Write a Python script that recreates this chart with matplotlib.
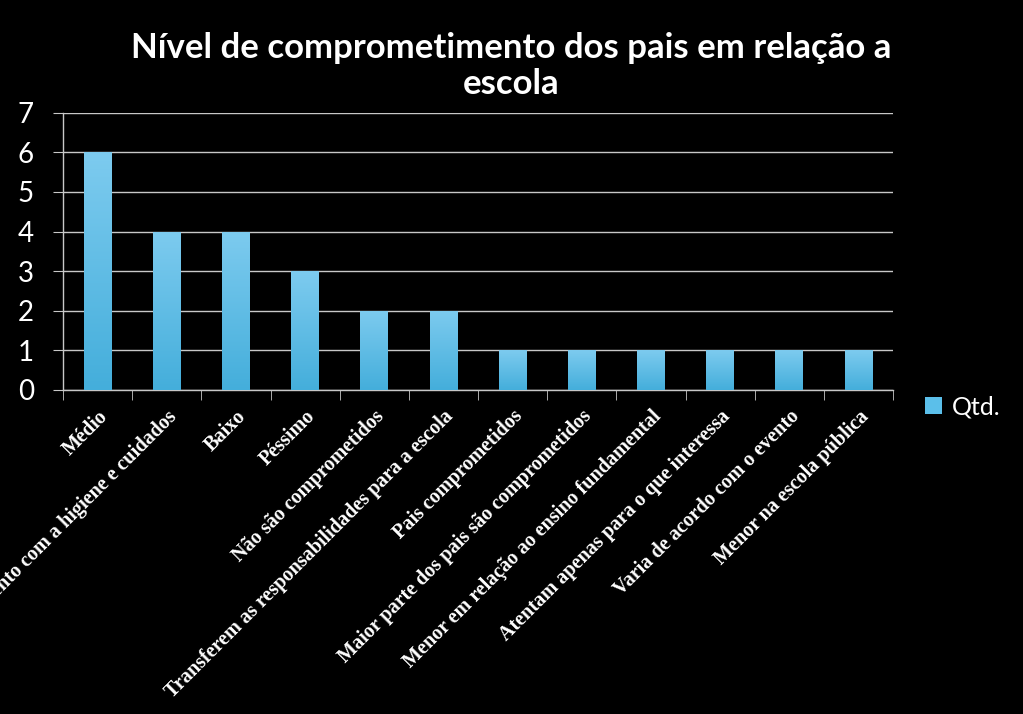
import matplotlib
matplotlib.use("Agg")
import matplotlib.pyplot as plt
from matplotlib.colors import LinearSegmentedColormap
import numpy as np

# values
categorias = [
    "Médio",
    "Atento com a higiene e cuidados",
    "Baixo",
    "Péssimo",
    "Não são comprometidos",
    "Transferem as responsabilidades para a escola",
    "Pais comprometidos",
    "Maior parte dos pais são comprometidos",
    "Menor em relação ao ensino fundamental",
    "Atentam apenas para o que interessa",
    "Varia de acordo com o evento",
    "Menor na escola pública",
]
qtd = [6, 4, 4, 3, 2, 2, 1, 1, 1, 1, 1, 1]
serie = "Qtd."
titulo = "Nível de comprometimento dos pais em relação a\nescola"

fig = plt.figure(figsize=(10.23, 7.14), dpi=100, facecolor="black")
ax = fig.add_axes([0.0616, 0.454, 0.8114, 0.388], facecolor="black")

x = np.arange(len(categorias))
bars = ax.bar(x, qtd, width=0.4, color="#5bbfea", label=serie, zorder=3)

# vertical gradient on each bar, light at the top
grad = LinearSegmentedColormap.from_list("azul", ["#44aedb", "#7dcbef"])
g = np.linspace(0, 1, 256).reshape(-1, 1)
for b in bars:
    x0, w, h = b.get_x(), b.get_width(), b.get_height()
    im = ax.imshow(g, cmap=grad, origin="lower", aspect="auto",
                   extent=(x0, x0 + w, 0, h), zorder=4)
    im.set_clip_path(b)

ax.set_xlim(-0.5, len(categorias) - 0.5)
ax.set_ylim(0, 7)
ax.set_yticks(range(0, 8))
ax.yaxis.grid(True, color="#c8c8c8", linewidth=1, zorder=0)

for s in ["top", "right"]:
    ax.spines[s].set_visible(False)
for s in ["left", "bottom"]:
    ax.spines[s].set_color("#c8c8c8")
    ax.spines[s].set_linewidth(1)

ax.tick_params(axis="y", colors="#c8c8c8", length=7, labelcolor="white",
               labelsize=20, pad=14)
for lbl in ax.get_yticklabels():
    lbl.set_family("Lato")

ax.set_xticks(x)
ax.set_xticklabels(categorias, rotation=45, ha="right", rotation_mode="anchor",
                   family="Liberation Serif", fontweight="bold", fontsize=14.5,
                   color="white")
ax.tick_params(axis="x", which="major", length=0, pad=12)
ax.set_xticks(np.arange(-0.5, len(categorias)), minor=True)
ax.tick_params(axis="x", which="minor", length=7, color="#c8c8c8")

fig.suptitle(titulo, x=0.5, y=0.955, color="white", family="Lato",
             fontweight="bold", fontsize=25, linespacing=1.15)

leg = fig.legend(loc="center left", bbox_to_anchor=(0.882, 0.43), frameon=False,
                 prop={"family": "Lato", "size": 18}, handlelength=0.7,
                 handleheight=0.7, handletextpad=0.4)
for t in leg.get_texts():
    t.set_color("white")

fig.savefig("out.png", dpi=100, facecolor="black")
